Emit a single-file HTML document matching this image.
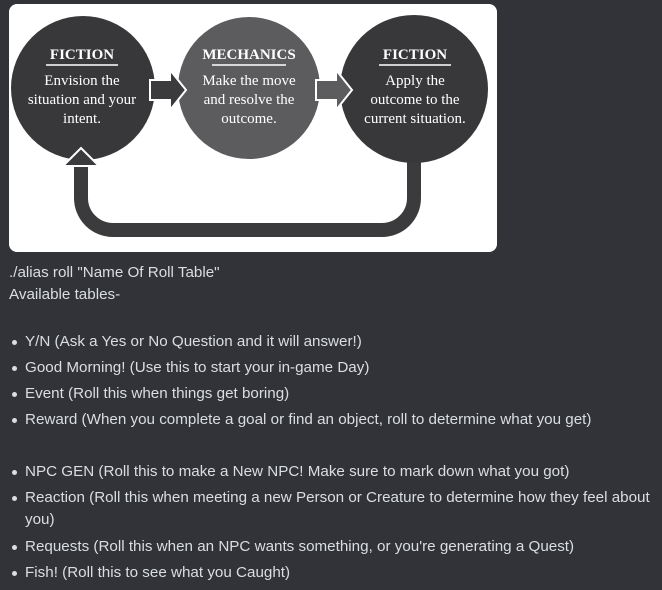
<!DOCTYPE html>
<html><head><style>
body{margin:0;width:662px;height:590px;background:#313338;overflow:hidden;font-family:"Liberation Sans",sans-serif;color:#dbdee1;position:relative}
.t{position:absolute;left:9px;font-size:15.2px;white-space:nowrap}
.li{position:absolute;left:25px;font-size:15.2px;white-space:nowrap}
.li:before{content:"";position:absolute;left:-13px;top:7px;width:5px;height:5px;border-radius:50%;background:#dbdee1}
</style></head><body>
<svg width="662" height="260" style="position:absolute;left:0;top:0">
<rect x="9" y="4" width="488" height="248" rx="8" fill="#fff"/>
<path d="M81 165 V198 A32 32 0 0 0 113 230 H382 A32 32 0 0 0 414 198 V155" fill="none" stroke="#3b3b3d" stroke-width="14"/>
<circle cx="83" cy="88" r="72" fill="#38383a"/>
<circle cx="249" cy="88" r="71" fill="#5c5c5e"/>
<circle cx="414" cy="89" r="74" fill="#38383a"/>
<path d="M150 80 H170 V70 L186 90 L170 110 V100 H150 Z" fill="#3b3b3d" stroke="#fff" stroke-width="2"/>
<path d="M316 80 H336 V70 L352 90 L336 110 V100 H316 Z" fill="#5c5c5e" stroke="#fff" stroke-width="2"/>
<path d="M63 166 L81 148 L99 166 Z" fill="#3b3b3d" stroke="#fff" stroke-width="2"/>
<g font-family="Liberation Serif,serif" fill="#fff" text-anchor="middle">
<text x="82" y="59" font-size="15" font-weight="bold">FICTION</text>
<line x1="46" y1="65" x2="118" y2="65" stroke="#fff" stroke-width="1.5"/>
<text x="82" y="85" font-size="15">Envision the</text>
<text x="82" y="104" font-size="15">situation and your</text>
<text x="82" y="123" font-size="15">intent.</text>
<text x="249" y="59" font-size="15" font-weight="bold">MECHANICS</text>
<line x1="212" y1="65" x2="286" y2="65" stroke="#fff" stroke-width="1.5"/>
<text x="249" y="85" font-size="15">Make the move</text>
<text x="249" y="104" font-size="15">and resolve the</text>
<text x="249" y="123" font-size="15">outcome.</text>
<text x="415" y="59" font-size="15" font-weight="bold">FICTION</text>
<line x1="379" y1="65" x2="451" y2="65" stroke="#fff" stroke-width="1.5"/>
<text x="415" y="85" font-size="15">Apply the</text>
<text x="415" y="104" font-size="15">outcome to the</text>
<text x="415" y="123" font-size="15">current situation.</text>
</g>
</svg>
<div class="t" style="top:264px">./alias roll "Name Of Roll Table"</div>
<div class="t" style="top:286px">Available tables-</div>
<div class="li" style="top:333px">Y/N (Ask a Yes or No Question and it will answer!)</div>
<div class="li" style="top:359px">Good Morning! (Use this to start your in-game Day)</div>
<div class="li" style="top:385px">Event (Roll this when things get boring)</div>
<div class="li" style="top:411px">Reward (When you complete a goal or find an object, roll to determine what you get)</div>
<div class="li" style="top:463px">NPC GEN (Roll this to make a New NPC! Make sure to mark down what you got)</div>
<div class="li" style="top:489px">Reaction (Roll this when meeting a new Person or Creature to determine how they feel about</div>
<div class="t" style="top:511px;left:25px">you)</div>
<div class="li" style="top:538px">Requests (Roll this when an NPC wants something, or you're generating a Quest)</div>
<div class="li" style="top:564px">Fish! (Roll this to see what you Caught)</div>
</body></html>
